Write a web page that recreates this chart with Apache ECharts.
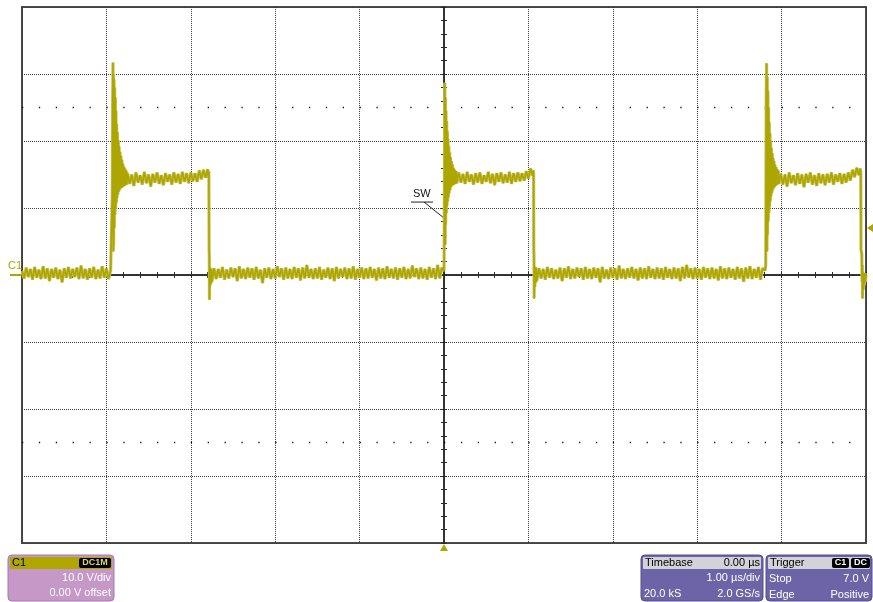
<!DOCTYPE html>
<html>
<head>
<meta charset="utf-8">
<script src="https://cdn.jsdelivr.net/npm/echarts@6/dist/echarts.min.js"></script>
<style>html,body{margin:0;padding:0;background:#fff;}#c{width:873px;height:602px;}</style>
</head>
<body>
<div id="c"></div>
<script>
// ---- axis settings (oscilloscope: 1.00 us/div, 10.0 V/div) ----
const timeRange = [-5, 5];      // us
const voltRange = [-40, 40];    // V
const dotRowLevels = [25, -25]; // V, dotted marker rows
const triggerLevel = 7.0;       // V
const triggerTime = 0;          // us

// ---- trace C1 (SW node), [time us, volts] ----
const base0 = [[-5.000,0.6],[-4.975,-0.5],[-4.950,1.1],[-4.925,-0.3],[-4.900,0.9],[-4.875,-0.7],[-4.850,1.2],[-4.825,-0.4],[-4.800,0.8],[-4.775,-0.6],[-4.750,1.3],[-4.725,-0.5],[-4.700,1.0],[-4.675,-0.9],[-4.650,0.9],[-4.625,-0.4],[-4.600,1.1],[-4.575,-0.6],[-4.550,0.8],[-4.525,-1.1],[-4.500,1.0],[-4.475,-0.4],[-4.450,1.2],[-4.425,-0.5],[-4.400,0.9],[-4.375,-0.3],[-4.350,1.1],[-4.325,-0.6],[-4.300,1.4],[-4.275,-0.5],[-4.250,0.9],[-4.225,-0.7],[-4.200,1.0],[-4.175,-0.4],[-4.150,1.2],[-4.125,-0.6],[-4.100,0.8],[-4.075,-0.5],[-4.050,1.3],[-4.025,-0.4],[-4.000,1.0],[-3.975,-0.6],[-3.950,0.7]];
const rise1 = [[-3.935,0.8],[-3.930,12],[-3.926,25],[-3.922,31.7],[-3.920,27],[-3.918,3.5],[-3.916,30.0],[-3.914,4.5],[-3.910,29.2],[-3.906,7.0],[-3.902,28.0],[-3.898,9.0],[-3.894,26.5],[-3.890,10.0],[-3.886,24.5],[-3.882,10.8],[-3.878,22.5],[-3.874,11.5],[-3.869,21.3],[-3.864,12.0],[-3.859,20.1],[-3.854,12.4],[-3.849,19.2],[-3.844,12.7],[-3.839,18.4],[-3.834,12.9],[-3.828,17.8],[-3.822,13.0],[-3.816,17.2],[-3.810,13.1],[-3.804,16.6],[-3.798,13.2],[-3.792,16.2],[-3.786,13.3],[-3.779,15.9],[-3.772,13.4],[-3.765,15.6],[-3.758,13.5]];
const top1 = [[-3.750,15.2],[-3.725,13.6],[-3.700,15.0],[-3.675,13.3],[-3.650,15.3],[-3.625,13.8],[-3.600,14.9],[-3.575,13.5],[-3.550,15.4],[-3.525,13.7],[-3.500,15.0],[-3.475,13.2],[-3.450,15.1],[-3.425,13.8],[-3.400,15.3],[-3.375,13.6],[-3.350,14.9],[-3.325,13.4],[-3.300,15.2],[-3.275,13.9],[-3.250,15.0],[-3.225,13.5],[-3.200,15.3],[-3.175,13.8],[-3.150,15.1],[-3.125,13.6],[-3.100,15.4],[-3.075,13.9],[-3.050,15.2],[-3.025,13.7],[-3.000,15.3],[-2.975,14.0],[-2.950,15.2],[-2.925,13.9],[-2.900,15.6],[-2.875,14.3],[-2.850,15.7],[-2.825,14.5],[-2.800,15.8]];
const fall1 = [[-2.792,14.6],[-2.786,15.5],[-2.783,3.7],[-2.781,3.2],[-2.779,-3.7],[-2.775,1.2],[-2.771,-1.6],[-2.766,1.0],[-2.761,-1.3],[-2.755,0.9],[-2.750,-1.0]];
const base1 = [[-2.725,1.0],[-2.700,-0.6],[-2.675,0.9],[-2.650,-0.4],[-2.625,1.2],[-2.600,-0.7],[-2.575,0.8],[-2.550,-0.5],[-2.525,1.1],[-2.500,-0.3],[-2.475,1.0],[-2.450,-0.9],[-2.425,1.3],[-2.400,-0.5],[-2.375,0.9],[-2.350,-0.6],[-2.325,1.1],[-2.300,-0.4],[-2.275,1.0],[-2.250,-0.7],[-2.225,1.2],[-2.200,-0.5],[-2.175,0.8],[-2.150,-1.2],[-2.125,1.0],[-2.100,-0.4],[-2.075,1.1],[-2.050,-0.6],[-2.025,0.9],[-2.000,-0.5],[-1.975,1.3],[-1.950,-0.3],[-1.925,1.0],[-1.900,-0.7],[-1.875,1.1],[-1.850,-0.5],[-1.825,0.9],[-1.800,-0.6],[-1.775,1.2],[-1.750,-0.4],[-1.725,1.0],[-1.700,-0.8],[-1.675,1.1],[-1.650,-0.5],[-1.625,1.5],[-1.600,-0.4],[-1.575,0.9],[-1.550,-0.6],[-1.525,1.0],[-1.500,-0.5],[-1.475,1.2],[-1.450,-0.7],[-1.425,0.8],[-1.400,-0.4],[-1.375,1.1],[-1.350,-0.6],[-1.325,1.0],[-1.300,-0.9],[-1.275,1.2],[-1.250,-0.5],[-1.225,0.9],[-1.200,-0.3],[-1.175,1.1],[-1.150,-0.6],[-1.125,1.0],[-1.100,-0.5],[-1.075,1.3],[-1.050,-0.7],[-1.025,0.9],[-1.000,-0.4],[-0.975,1.1],[-0.950,-0.6],[-0.925,1.0],[-0.900,-0.5],[-0.875,1.2],[-0.850,-0.4],[-0.825,0.9],[-0.800,-0.8],[-0.775,1.1],[-0.750,-0.5],[-0.725,1.0],[-0.700,-0.6],[-0.675,1.3],[-0.650,-0.4],[-0.625,0.9],[-0.600,-0.5],[-0.575,1.1],[-0.550,-0.7],[-0.525,1.0],[-0.500,-0.4],[-0.475,1.2],[-0.450,-0.6],[-0.425,0.9],[-0.400,-0.5],[-0.375,1.4],[-0.350,-0.3],[-0.325,1.0],[-0.300,-0.6],[-0.275,1.1],[-0.250,-0.5],[-0.225,0.9],[-0.200,-0.7],[-0.175,1.2],[-0.150,-0.4],[-0.125,1.0],[-0.100,-0.6],[-0.075,1.5],[-0.050,-0.5],[-0.025,1.1]];
const rise2 = [[0.000,0.6],[0.003,6],[0.006,18],[0.009,28.7],[0.012,24],[0.014,4.5],[0.017,26.5],[0.020,7.5],[0.024,24.5],[0.028,9.2],[0.032,23.0],[0.036,10.3],[0.040,21.5],[0.044,11.0],[0.048,20.3],[0.052,11.6],[0.057,19.3],[0.062,12.2],[0.067,18.3],[0.072,12.7],[0.077,17.6],[0.082,13.1],[0.088,17.0],[0.094,13.3],[0.100,16.5],[0.106,13.4],[0.113,16.0],[0.120,13.5],[0.128,15.7],[0.136,13.6],[0.144,15.5],[0.152,13.7]];
const top2 = [[0.175,15.3],[0.200,13.8],[0.225,15.1],[0.250,13.6],[0.275,15.4],[0.300,13.9],[0.325,15.0],[0.350,13.5],[0.375,15.2],[0.400,13.8],[0.425,15.3],[0.450,13.6],[0.475,14.9],[0.500,13.9],[0.525,15.4],[0.550,13.7],[0.575,15.1],[0.600,13.4],[0.625,15.2],[0.650,13.9],[0.675,15.3],[0.700,13.7],[0.725,15.0],[0.750,13.8],[0.775,15.4],[0.800,13.6],[0.825,15.2],[0.850,13.9],[0.875,15.3],[0.900,14.0],[0.925,15.2],[0.950,14.1],[0.975,15.5],[1.000,14.4],[1.025,15.9],[1.050,14.8]];
const fall2 = [[1.058,15.6],[1.062,15.2],[1.064,3.7],[1.066,3.0],[1.068,-3.5],[1.072,1.3],[1.076,-1.8],[1.081,1.0],[1.086,-1.2],[1.092,1.1],[1.098,-0.9]];
const base2 = [[1.125,1.0],[1.150,-0.5],[1.175,0.9],[1.200,-0.7],[1.225,1.2],[1.250,-0.4],[1.275,1.0],[1.300,-0.6],[1.325,0.8],[1.350,-0.5],[1.375,1.1],[1.400,-0.9],[1.425,1.0],[1.450,-0.4],[1.475,1.3],[1.500,-0.6],[1.525,0.9],[1.550,-0.5],[1.575,1.1],[1.600,-0.3],[1.625,1.0],[1.650,-0.7],[1.675,1.2],[1.700,-0.5],[1.725,0.9],[1.750,-0.6],[1.775,1.1],[1.800,-0.4],[1.825,1.0],[1.850,-1.1],[1.875,1.2],[1.900,-0.5],[1.925,0.8],[1.950,-0.6],[1.975,1.1],[2.000,-0.4],[2.025,1.0],[2.050,-0.7],[2.075,1.4],[2.100,-0.5],[2.125,0.9],[2.150,-0.6],[2.175,1.0],[2.200,-0.4],[2.225,1.2],[2.250,-0.5],[2.275,0.9],[2.300,-0.8],[2.325,1.1],[2.350,-0.5],[2.375,1.0],[2.400,-0.6],[2.425,1.3],[2.450,-0.4],[2.475,0.9],[2.500,-0.6],[2.525,1.1],[2.550,-0.5],[2.575,1.0],[2.600,-0.7],[2.625,1.2],[2.650,-0.4],[2.675,0.9],[2.700,-0.6],[2.725,1.1],[2.750,-0.5],[2.775,1.0],[2.800,-0.9],[2.825,1.2],[2.850,-0.5],[2.875,1.5],[2.900,-0.4],[2.925,1.0],[2.950,-0.6],[2.975,1.1],[3.000,-0.5],[3.025,0.9],[3.050,-0.7],[3.075,1.2],[3.100,-0.4],[3.125,1.0],[3.150,-0.6],[3.175,1.1],[3.200,-0.5],[3.225,0.9],[3.250,-0.8],[3.275,1.3],[3.300,-0.5],[3.325,1.0],[3.350,-0.6],[3.375,1.1],[3.400,-0.4],[3.425,0.9],[3.450,-0.7],[3.475,1.2],[3.500,-0.5],[3.525,1.0],[3.550,-1.0],[3.575,1.1],[3.600,-0.5],[3.625,1.3],[3.650,-0.6],[3.675,0.9],[3.700,-0.4],[3.725,1.2],[3.750,-0.7],[3.775,1.0]];
const rise3 = [[3.805,0.7],[3.812,1.5],[3.815,15],[3.818,27],[3.822,31.6],[3.825,26],[3.827,3.5],[3.830,29.5],[3.834,6.0],[3.838,27.5],[3.842,8.0],[3.846,25.0],[3.850,9.3],[3.854,22.8],[3.858,10.2],[3.862,21.2],[3.866,11.0],[3.870,20.0],[3.874,11.7],[3.879,19.0],[3.884,12.2],[3.889,18.2],[3.894,12.6],[3.899,17.5],[3.904,12.9],[3.910,17.0],[3.916,13.1],[3.922,16.5],[3.928,13.3],[3.934,16.1],[3.940,13.4],[3.947,15.8],[3.954,13.5],[3.961,15.6],[3.968,13.6]];
const top3 = [[3.990,15.1],[4.015,13.5],[4.040,15.0],[4.065,13.2],[4.090,15.3],[4.115,13.7],[4.140,14.9],[4.165,13.4],[4.190,15.2],[4.215,13.6],[4.240,15.0],[4.265,13.1],[4.290,15.1],[4.315,13.8],[4.340,15.3],[4.365,13.5],[4.390,14.9],[4.415,13.3],[4.440,15.2],[4.465,13.7],[4.490,15.0],[4.515,13.4],[4.540,15.1],[4.565,13.8],[4.590,15.3],[4.615,13.5],[4.640,15.0],[4.665,13.9],[4.690,15.2],[4.715,13.6],[4.740,15.1],[4.765,13.8],[4.790,15.3],[4.815,14.1],[4.840,15.7],[4.865,14.6],[4.890,16.0],[4.915,14.9]];
const fall3 = [[4.930,15.9],[4.938,15.4],[4.941,3.7],[4.950,3.2],[4.953,-1.0],[4.956,1.5],[4.959,-3.5],[4.963,0.5],[4.968,-2.2],[4.973,0.2],[4.980,-1.5],[4.987,0.3],[4.993,-1.0],[5.000,0.0]];

const traceC1 = [].concat(base0, rise1, top1, fall1, base1, rise2, top2, fall2, base2, rise3, top3, fall3);

// ---- readout panels (text) ----
const ch1Panel = {name: 'C1', coupling: 'DC1M', lines: ['10.0 V/div', '0.00 V offset']};
const tbPanel = {title: 'Timebase', value: '0.00 µs', perDiv: '1.00 µs/div', samples: '20.0 kS', rate: '2.0 GS/s'};
const trigPanel = {title: 'Trigger', src: 'C1', coup: 'DC', mode: 'Stop', level: '7.0 V', type: 'Edge', slope: 'Positive'};

const TRACE = '#aea600';
const HALO = '#c9c460';
const FONT = '"Liberation Sans", Arial, sans-serif';

const chart = echarts.init(document.getElementById('c'), null, {renderer: 'canvas'});

const gridDot = {color: '#3c3c3c', type: [1, 1], width: 1};
function xAx(pos, split) {
  return {
    type: 'value', position: pos, min: timeRange[0], max: timeRange[1], interval: 1,
    axisLine: {show: true, onZero: true, lineStyle: {color: '#2a2a2a', width: 1.5}},
    axisTick: {show: true, inside: true, length: 3, lineStyle: {color: '#2a2a2a', width: 1}},
    minorTick: {show: true, splitNumber: 5, length: 3, lineStyle: {color: '#2a2a2a', width: 1}},
    axisLabel: {show: false},
    splitLine: {show: split, lineStyle: gridDot},
    minorSplitLine: {show: false}
  };
}
function yAx(pos, split) {
  return {
    type: 'value', position: pos, min: voltRange[0], max: voltRange[1], interval: 10,
    axisLine: {show: true, onZero: true, lineStyle: {color: '#2a2a2a', width: 1.5}},
    axisTick: {show: true, inside: true, length: 3, lineStyle: {color: '#2a2a2a', width: 1}},
    minorTick: {show: true, splitNumber: 5, length: 3, lineStyle: {color: '#2a2a2a', width: 1}},
    axisLabel: {show: false},
    splitLine: {show: split, lineStyle: gridDot},
    minorSplitLine: {show: false}
  };
}

const dotSeries = dotRowLevels.map(function (lv) {
  return {
    type: 'line', xAxisIndex: 0, yAxisIndex: 0, silent: true, z: 1,
    data: [[timeRange[0], lv], [timeRange[1], lv]],
    showSymbol: false, symbol: 'none',
    lineStyle: {color: '#111', width: 1.3, type: [1.3, 15.58]}
  };
});

chart.setOption({
  animation: false,
  backgroundColor: '#ffffff',
  textStyle: {fontFamily: FONT},
  grid: {left: 22, top: 7, width: 844, height: 536, show: true, borderColor: '#4a4a4a', borderWidth: 2, backgroundColor: '#fff', containLabel: false},
  xAxis: [xAx('bottom', true), xAx('top', false)],
  yAxis: [yAx('left', true), yAx('right', false)],
  series: dotSeries.concat([{
    name: 'C1 halo', type: 'line', xAxisIndex: 0, yAxisIndex: 0, z: 4, silent: true,
    data: traceC1, showSymbol: false, symbol: 'none', sampling: null,
    lineStyle: {color: HALO, width: 3.2}
  }, {
    name: 'C1', type: 'line', xAxisIndex: 0, yAxisIndex: 0, z: 5,
    data: traceC1, showSymbol: false, symbol: 'none', sampling: null,
    lineStyle: {color: TRACE, width: 1.7}
  }])
});

function px(t, v) { return chart.convertToPixel({gridIndex: 0}, [t, v]); }

const g = [];
const zero = px(timeRange[0], 0);
// C1 ground marker
g.push({type: 'line', shape: {x1: 10, y1: zero[1], x2: zero[0], y2: zero[1]}, style: {stroke: TRACE, lineWidth: 2}});
g.push({type: 'text', x: 8, y: zero[1] - 9, style: {text: 'C1', fill: TRACE, font: '11px ' + FONT, textVerticalAlign: 'middle'}});
// trigger level marker (right)
const tl = px(timeRange[1], triggerLevel);
g.push({type: 'polygon', shape: {points: [[tl[0] + 1, tl[1]], [tl[0] + 7, tl[1] - 4], [tl[0] + 7, tl[1] + 4]]}, style: {fill: TRACE}});
// trigger time marker (bottom)
const tt = px(triggerTime, voltRange[0]);
g.push({type: 'polygon', shape: {points: [[tt[0], tt[1] + 1], [tt[0] - 4, tt[1] + 8], [tt[0] + 4, tt[1] + 8]]}, style: {fill: TRACE}});
// SW annotation
const sw = px(0.0, 8.5);
g.push({type: 'text', x: sw[0] - 31, y: sw[1] - 24, style: {text: 'SW', fill: '#111', font: '11px ' + FONT, textVerticalAlign: 'middle'}});
g.push({type: 'line', shape: {x1: sw[0] - 33, y1: sw[1] - 16, x2: sw[0] - 11, y2: sw[1] - 16}, style: {stroke: '#222', lineWidth: 1}});
g.push({type: 'line', shape: {x1: sw[0] - 20, y1: sw[1] - 16, x2: sw[0], y2: sw[1]}, style: {stroke: '#222', lineWidth: 1}});

// panels
function txt(x, y, s, fill, align, size, weight) {
  return {type: 'text', x: x, y: y, style: {text: s, fill: fill, font: (weight || 'normal') + ' ' + (size || 11) + 'px ' + FONT, textAlign: align || 'left', textVerticalAlign: 'middle'}};
}
function badge(x, y, w, s, fill) {
  return [{type: 'rect', shape: {x: x, y: y, width: w, height: 10, r: 2}, style: {fill: '#000'}},
          txt(x + w / 2, y + 5, s, fill, 'center', 9, 'bold')];
}
// C1 panel
g.push({type: 'rect', shape: {x: 8, y: 555, width: 106, height: 46, r: 4}, style: {fill: '#c598c8', stroke: '#a07aa5', lineWidth: 1}});
g.push({type: 'rect', shape: {x: 10, y: 557, width: 102, height: 12, r: 1}, style: {fill: '#b0a800'}});
g.push(txt(12, 563, ch1Panel.name, '#000'));
badge(79, 558, 32, ch1Panel.coupling, '#d8d27a').forEach(function (e) { g.push(e); });
g.push(txt(111, 578, ch1Panel.lines[0], '#fff', 'right'));
g.push(txt(111, 593, ch1Panel.lines[1], '#fff', 'right'));
// Timebase panel
g.push({type: 'rect', shape: {x: 641, y: 555, width: 122, height: 46, r: 4}, style: {fill: '#6c64a6', stroke: '#544d8c', lineWidth: 1}});
g.push({type: 'rect', shape: {x: 643, y: 557, width: 118, height: 12, r: 1}, style: {fill: '#d2d2d8'}});
g.push(txt(645, 563, tbPanel.title, '#000'));
g.push(txt(760, 563, tbPanel.value, '#000', 'right'));
g.push(txt(760, 578, tbPanel.perDiv, '#fff', 'right'));
g.push(txt(644, 594, tbPanel.samples, '#fff', 'left'));
g.push(txt(760, 594, tbPanel.rate, '#fff', 'right'));
// Trigger panel
g.push({type: 'rect', shape: {x: 766, y: 555, width: 106, height: 46, r: 4}, style: {fill: '#6c64a6', stroke: '#544d8c', lineWidth: 1}});
g.push({type: 'rect', shape: {x: 768, y: 557, width: 102, height: 12, r: 1}, style: {fill: '#d2d2d8'}});
g.push(txt(770, 563, trigPanel.title, '#000'));
badge(832, 558, 17, trigPanel.src, '#fff').forEach(function (e) { g.push(e); });
badge(851, 558, 19, trigPanel.coup, '#fff').forEach(function (e) { g.push(e); });
g.push(txt(769, 579, trigPanel.mode, '#fff'));
g.push(txt(869, 579, trigPanel.level, '#fff', 'right'));
g.push(txt(769, 595, trigPanel.type, '#fff'));
g.push(txt(869, 595, trigPanel.slope, '#fff', 'right'));

chart.setOption({graphic: g});
</script>
</body>
</html>
